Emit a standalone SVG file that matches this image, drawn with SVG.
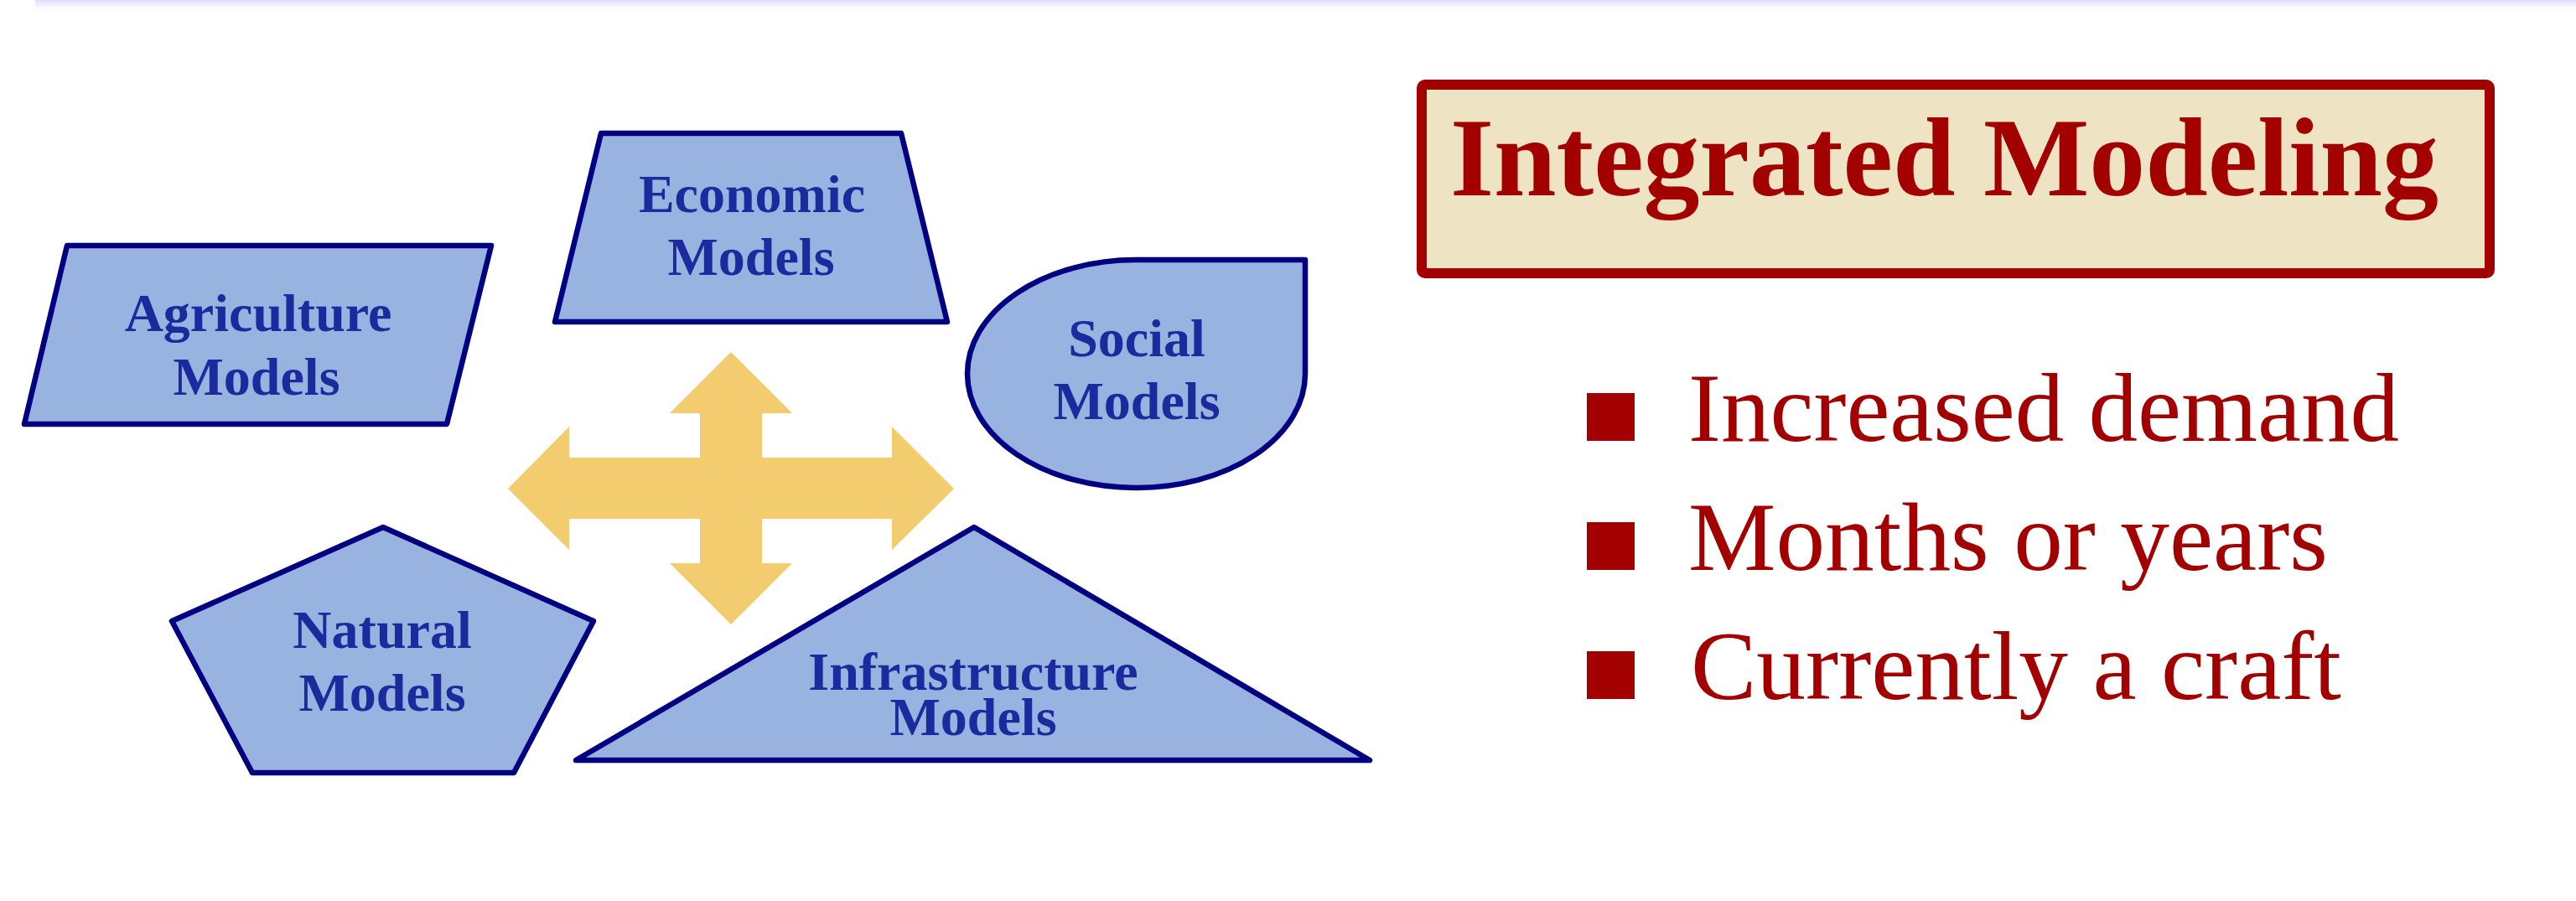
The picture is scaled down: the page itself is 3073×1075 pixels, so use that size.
<svg xmlns="http://www.w3.org/2000/svg" width="3073" height="1075" viewBox="0 0 3073 1075">
  <defs>
    <linearGradient id="topband" x1="0" y1="0" x2="0" y2="1">
      <stop offset="0" stop-color="#DCDCF9"/>
      <stop offset="1" stop-color="#FFFFFF" stop-opacity="0"/>
    </linearGradient>
    <style>
      .shape { fill: #99B3E1; stroke: #000080; stroke-width: 6.5; stroke-linejoin: round; }
      .lbl { font-family: "Liberation Serif", "DejaVu Serif", serif; font-weight: bold; font-size: 64px; fill: #1B2B9D; text-anchor: middle; }
      .bullet { fill: #A30000; }
      .btxt { font-family: "Liberation Serif", "DejaVu Serif", serif; font-size: 116px; fill: #A30000; }
      .title { font-family: "Liberation Serif", "DejaVu Serif", serif; font-weight: bold; font-size: 134px; fill: #A30000; }
    </style>
  </defs>
  <rect width="3073" height="1075" fill="#FFFFFF"/>
  <rect x="42" y="0" width="3031" height="16" fill="url(#topband)"/>

  <g id="connectors">
    <polygon id="cross-arrow" fill="#F2CC6E" points="872,420 945,493 909,493 909,546 1064,546 1064,509 1138,583 1064,656 1064,619 909,619 909,672 945,672 872,745 799,672 835,672 835,619 679,619 679,656 606,583 679,509 679,546 835,546 835,493 799,493"/>
  </g>

  <g id="agriculture">
    <polygon class="shape" points="80,293 586,293 533,506 29,506"/>
    <text class="lbl"><tspan x="308" y="395">Agriculture</tspan><tspan x="306" y="471">Models</tspan></text>
  </g>

  <g id="economic">
    <polygon class="shape" points="717,159 1075,159 1130,384 662,384"/>
    <text class="lbl"><tspan x="897" y="253">Economic</tspan><tspan x="896" y="328">Models</tspan></text>
  </g>

  <g id="social">
    <path class="shape" d="M1154,446 A201,136 0 0 1 1355,310 L1557,310 L1557,446 A201,136 0 0 1 1355,582 A201,136 0 0 1 1154,446 Z"/>
    <text class="lbl"><tspan x="1356" y="425">Social</tspan><tspan x="1356" y="500">Models</tspan></text>
  </g>

  <g id="natural">
    <polygon class="shape" points="457,629 708,741 613,922 301,922 205,741"/>
    <text class="lbl"><tspan x="456" y="773">Natural</tspan><tspan x="456" y="848">Models</tspan></text>
  </g>

  <g id="infrastructure">
    <polygon class="shape" points="1162,629 1634,907 687,907"/>
    <text class="lbl"><tspan x="1161" y="823">Infrastructure</tspan><tspan x="1161" y="877">Models</tspan></text>
  </g>

  <g id="title">
    <rect x="1696" y="101" width="1274" height="225" rx="4" fill="#EEE3C2" stroke="#A30000" stroke-width="12"/>
    <text class="title" x="1730" y="233" textLength="1179" lengthAdjust="spacingAndGlyphs">Integrated Modeling</text>
  </g>

  <g id="bullets">
    <rect class="bullet" x="1893" y="469" width="57" height="57"/>
    <text class="btxt" x="2014" y="526" textLength="848" lengthAdjust="spacingAndGlyphs">Increased demand</text>
    <rect class="bullet" x="1893" y="623" width="57" height="57"/>
    <text class="btxt" x="2014" y="680" textLength="763" lengthAdjust="spacingAndGlyphs">Months or years</text>
    <rect class="bullet" x="1893" y="777" width="57" height="57"/>
    <text class="btxt" x="2017" y="834" textLength="776" lengthAdjust="spacingAndGlyphs">Currently a craft</text>
  </g>
</svg>
